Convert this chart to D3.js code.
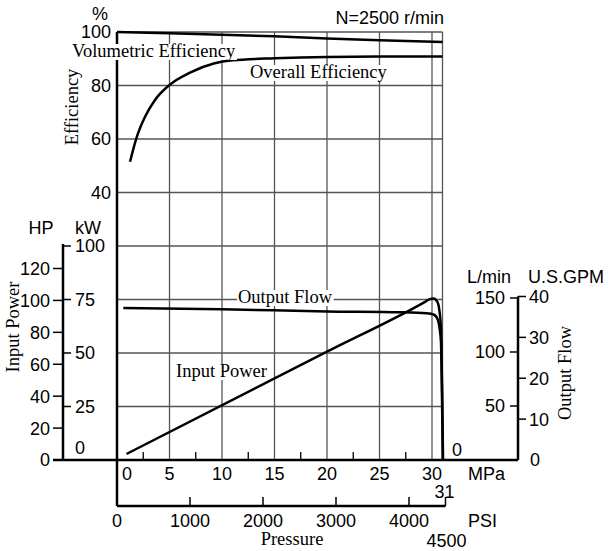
<!DOCTYPE html>
<html><head><meta charset="utf-8">
<script src="https://cdn.jsdelivr.net/npm/d3@7"></script>
<style>
body{margin:0;background:#fff;}
svg{display:block;}
.sans{font-family:"Liberation Sans",Arial,sans-serif;font-size:18px;fill:#000;}
.serif{font-family:"Liberation Serif","Times New Roman",serif;font-size:18.5px;fill:#000;}
</style>
</head><body>
<svg id="c" width="610" height="551"></svg>
<script>
// ---- data ----
const mpaTicks = [0,5,10,15,20,25,30];
const mpaMinor = [2.5,7.5,12.5,17.5,22.5,27.5];
const psiTicks = [0,1000,2000,3000,4000];
const effTicks = [40,60,80,100];
const kwTicks = [25,50,75,100];
const hpTicks = [0,20,40,60,80,100,120];
const lpmTicks = [50,100,150];
const gpmTicks = [10,20,30,40];

const volPressure = [0,5,10,15,20,25,31];
const volEff      = [100,99.5,99,98.4,97.6,96.9,96.3];

const ovPressure = [1.24,1.88,2.67,3.62,5,6.95,9.3,11,15,20,25,31];
const ovEff      = [51.5,60.7,68.3,74.6,80.2,84.8,88.3,89.4,90.2,90.7,90.8,90.8];

const flowPressure = [0.6,10,20,27,29.5,30.2,30.55,30.75,30.85,31.03];
const flowLpm      = [140.7,139.6,137.6,136.8,135.9,134.5,130,120,110,0];

const powPressure = [0.9,20,29.3,29.8,30.15,30.5,30.7,30.85,31.05];
const powKw       = [2.8,50.6,73.8,75.2,75.5,74,70,62,0];

// ---- scales ----
const svg = d3.select("#c");
const x   = d3.scaleLinear().domain([0,31]).range([117,442.5]);
const psi = d3.scaleLinear().domain([0,4500]).range([117,445.5]);
const eff = d3.scaleLinear().domain([20,100]).range([246,32]);
const kw  = d3.scaleLinear().domain([0,100]).range([460,246]);
const hp  = d3.scaleLinear().domain([0,100/0.7457]).range([460,246]);
const lpm = d3.scaleLinear().domain([0,150]).range([460,298]);
const gpm = d3.scaleLinear().domain([0,150/3.785]).range([460,298]);

const gridC = "#555";
// grid
const g = svg.append("g");
const hy = effTicks.map(d=>eff(d)).concat(kwTicks.map(d=>kw(d)));
g.selectAll("line.h").data(hy).join("line")
  .attr("x1",x(0)).attr("x2",x(31)).attr("y1",d=>d).attr("y2",d=>d)
  .attr("stroke",gridC).attr("stroke-width",1.3);
g.selectAll("line.v").data(mpaTicks.filter(d=>d>0).concat([31])).join("line")
  .attr("x1",d=>x(d)).attr("x2",d=>x(d)).attr("y1",eff(100)).attr("y2",kw(0))
  .attr("stroke",gridC).attr("stroke-width",1.3);

// main axes lines
const ax = svg.append("g").attr("stroke","#000").attr("fill","none");
ax.append("line").attr("x1",x(0)).attr("x2",x(0)).attr("y1",eff(100)).attr("y2",506).attr("stroke-width",2.5);
ax.append("line").attr("x1",53).attr("x2",518).attr("y1",kw(0)).attr("y2",kw(0)).attr("stroke-width",2.5);
ax.append("line").attr("x1",63).attr("x2",63).attr("y1",kw(100)-2).attr("y2",kw(0)).attr("stroke-width",2.5);
ax.append("line").attr("x1",518).attr("x2",518).attr("y1",gpm(40)).attr("y2",kw(0)).attr("stroke-width",2.5);
ax.append("line").attr("x1",psi(0)).attr("x2",psi(4500)).attr("y1",506).attr("y2",506).attr("stroke-width",2.5);

// MPa minor ticks
ax.selectAll("line.mm").data(mpaMinor).join("line")
  .attr("x1",d=>x(d)).attr("x2",d=>x(d)).attr("y1",460).attr("y2",452).attr("stroke-width",1.3);
// PSI ticks
ax.selectAll("line.pt").data(psiTicks.filter(d=>d>0).concat([4500])).join("line")
  .attr("x1",d=>psi(d)).attr("x2",d=>psi(d)).attr("y1",506).attr("y2",497).attr("stroke-width",1.5);
// HP ticks (left)
ax.selectAll("line.hp").data(hpTicks).join("line")
  .attr("x1",53).attr("x2",63).attr("y1",d=>hp(d)).attr("y2",d=>hp(d)).attr("stroke-width",1.5);
// kW ticks (right of HP axis)
ax.selectAll("line.kw").data(kwTicks).join("line")
  .attr("x1",63).attr("x2",71).attr("y1",d=>kw(d)).attr("y2",d=>kw(d)).attr("stroke-width",1.5);
// L/min ticks
ax.selectAll("line.lp").data(lpmTicks).join("line")
  .attr("x1",510).attr("x2",518).attr("y1",d=>lpm(d)).attr("y2",d=>lpm(d)).attr("stroke-width",1.5);
// GPM ticks
ax.selectAll("line.gp").data(gpmTicks).join("line")
  .attr("x1",518).attr("x2",526).attr("y1",d=>gpm(d)).attr("y2",d=>gpm(d)).attr("stroke-width",1.5);

// tick labels
const t = svg.append("g").attr("class","sans");
t.selectAll("text.e").data(effTicks).join("text")
  .attr("x",111).attr("y",d=>eff(d)).attr("dy","0.36em").attr("text-anchor","end").text(d=>d);
t.selectAll("text.hp").data(hpTicks).join("text")
  .attr("x",50).attr("y",d=>hp(d)).attr("dy","0.36em").attr("text-anchor","end").text(d=>d);
t.selectAll("text.kw").data(kwTicks).join("text")
  .attr("x",75).attr("y",d=>kw(d)).attr("dy","0.36em").attr("text-anchor","start").text(d=>d);
t.append("text").attr("x",80).attr("y",kw(0)-12).attr("dy","0.36em").attr("text-anchor","middle").text("0");
t.selectAll("text.mp").data(mpaTicks).join("text")
  .attr("x",d=>d===0?x(d)+10:x(d)).attr("y",480).attr("text-anchor","middle").text(d=>d);
t.append("text").attr("x",x(31)+2).attr("y",498).attr("text-anchor","middle").text("31");
t.append("text").attr("x",468).attr("y",480).text("MPa");
t.selectAll("text.ps").data(psiTicks).join("text")
  .attr("x",d=>psi(d)).attr("y",527).attr("text-anchor","middle").text(d=>d);
t.append("text").attr("x",psi(4500)+1).attr("y",547).attr("text-anchor","middle").text("4500");
t.append("text").attr("x",468).attr("y",527).text("PSI");
t.selectAll("text.lp").data(lpmTicks).join("text")
  .attr("x",505).attr("y",d=>lpm(d)).attr("dy","0.36em").attr("text-anchor","end").text(d=>d);
t.append("text").attr("x",457).attr("y",lpm(0)-10).attr("dy","0.36em").attr("text-anchor","middle").text("0");
t.selectAll("text.gp").data(gpmTicks).join("text")
  .attr("x",529).attr("y",d=>gpm(d)).attr("dy","0.36em").text(d=>d);
t.append("text").attr("x",535).attr("y",kw(0)).attr("dy","0.36em").attr("text-anchor","middle").text("0");

// unit labels
t.append("text").attr("x",100).attr("y",20).attr("text-anchor","middle").text("%");
t.append("text").attr("x",444).attr("y",24).attr("text-anchor","end").text("N=2500 r/min");
t.append("text").attr("x",41).attr("y",234).attr("text-anchor","middle").text("HP");
t.append("text").attr("x",88).attr("y",234).attr("text-anchor","middle").text("kW");
t.append("text").attr("x",467).attr("y",283).text("L/min");
t.append("text").attr("x",528).attr("y",283).text("U.S.GPM");

// axis titles (serif)
const s = svg.append("g").attr("class","serif");
s.append("text").attr("transform","translate(78,107) rotate(-90)").attr("text-anchor","middle").text("Efficiency");
s.append("text").attr("transform","translate(19,327) rotate(-90)").attr("text-anchor","middle").text("Input Power");
s.append("text").attr("transform","translate(571,373) rotate(-90)").attr("text-anchor","middle").text("Output Flow");
s.append("text").attr("x",292).attr("y",545).attr("text-anchor","middle").text("Pressure");

// curves
const line = (xs,ys,ysc)=>d3.line().x((d,i)=>x(xs[i])).y((d,i)=>ysc(ys[i])).curve(d3.curveMonotoneX)(xs);
const cg = svg.append("g").attr("fill","none").attr("stroke","#000").attr("stroke-width",2.5).attr("stroke-linejoin","round");
cg.append("path").attr("d",line(volPressure,volEff,eff));
cg.append("path").attr("d",line(ovPressure,ovEff,eff));
cg.append("path").attr("d",line(flowPressure,flowLpm,lpm));
cg.append("path").attr("d",line(powPressure,powKw,kw));

// curve labels with white backgrounds
function lab(txt,xx,yy){
  const gg = svg.append("g");
  const r = gg.append("rect").attr("fill","#fff");
  const tt = gg.append("text").attr("class","serif").attr("x",xx).attr("y",yy).text(txt);
  const b = tt.node().getBBox();
  r.attr("x",b.x-1).attr("y",b.y+3).attr("width",b.width+2).attr("height",b.height-4);
}
lab("Volumetric Efficiency",72,57);
lab("Overall Efficiency",250,78);
lab("Output Flow",238,303);
lab("Input Power",176,377);
</script>
</body></html>
